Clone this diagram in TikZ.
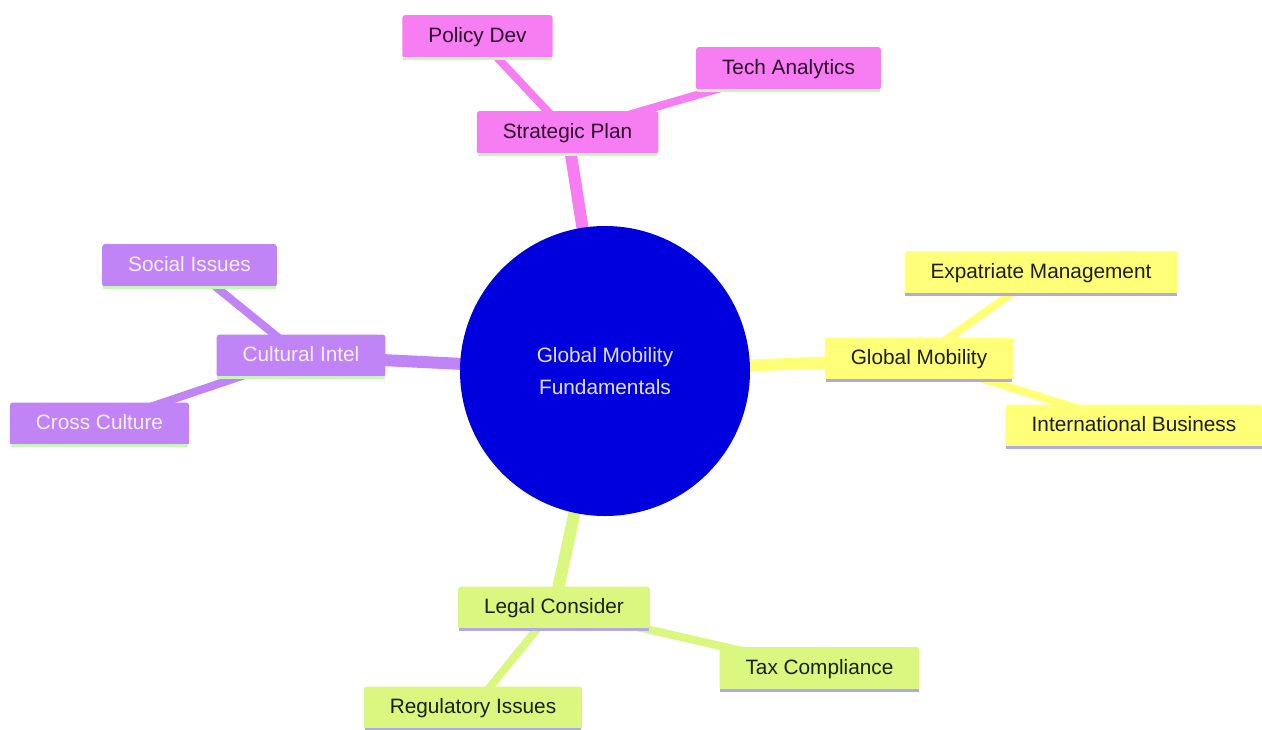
\documentclass[tikz,border=0pt]{standalone}
\usepackage{fontspec}
\setmainfont{Liberation Sans}
\pgfdeclarelayer{bg}
\pgfsetlayers{bg,main}
\definecolor{pinkc}{RGB}{246,125,242}
\definecolor{pinktx}{RGB}{45,12,45}
\definecolor{purpc}{RGB}{192,132,246}
\definecolor{purptx}{RGB}{246,238,255}
\definecolor{yellc}{RGB}{255,255,120}
\definecolor{yelltx}{RGB}{30,30,20}
\definecolor{greenc}{RGB}{218,247,128}
\definecolor{greentx}{RGB}{25,35,10}
\definecolor{rootc}{RGB}{0,0,222}
\definecolor{roottx}{RGB}{225,225,255}
\definecolor{lgreen}{RGB}{200,245,185}
\definecolor{lavender}{RGB}{175,170,230}
\tikzset{
  box/.style={rectangle, rounded corners=3pt, inner xsep=26pt, inner ysep=0pt,
    minimum height=43pt, font=\fontsize{20.8}{24}\selectfont, text height=15pt, text depth=4pt},
  pinkbox/.style={box, fill=pinkc, text=pinktx},
  purplebox/.style={box, fill=purpc, text=purptx},
  yellowbox/.style={box, fill=yellc, text=yelltx},
  greenbox/.style={box, fill=greenc, text=greentx},
  rootnode/.style={circle, fill=rootc, text=roottx, minimum size=290pt, inner sep=0pt,
    align=center, font=\fontsize{20.8}{32}\selectfont},
  mainedge/.style={line width=12pt},
  subedge/.style={line width=8pt},
  strip/.style={line width=3pt}
}
\begin{document}
\begin{tikzpicture}[x=1pt,y=-1pt]
\useasboundingbox (0,0) rectangle (1262,729);

\node[rootnode] (root) at (605,371) {Global Mobility\\ Fundamentals};

\node[pinkbox] (sp) at (567.5,132.5) {Strategic Plan};
\node[pinkbox] (pd) at (477.5,36.5) {Policy Dev};
\node[pinkbox] (ta) at (788.5,68.5) {Tech Analytics};

\node[purplebox] (ci) at (301,356) {Cultural Intel};
\node[purplebox] (si) at (189.5,265.5) {Social Issues};
\node[purplebox] (cc) at (99.5,424) {Cross Culture};

\node[yellowbox] (gm) at (919,359) {Global Mobility};
\node[yellowbox] (em) at (1041,272.5) {Expatriate Management};
\node[yellowbox] (ib) at (1134,426) {International Business};

\node[greenbox] (lc) at (554,608) {Legal Consider};
\node[greenbox] (tc) at (819.5,668.5) {Tax Compliance};
\node[greenbox] (ri) at (473,708) {Regulatory Issues};

\begin{pgfonlayer}{bg}
\fill[white] (0,0) rectangle (1262,729);
\draw[mainedge, pinkc] (root.center) -- (sp.center);
\draw[subedge, pinkc] (sp.center) -- (pd.center);
\draw[subedge, pinkc] (sp.center) -- (ta.center);
\draw[mainedge, purpc] (root.center) -- (ci.center);
\draw[subedge, purpc] (ci.center) -- (si.center);
\draw[subedge, purpc] (ci.center) -- (cc.center);
\draw[mainedge, yellc] (root.center) -- (gm.center);
\draw[subedge, yellc] (gm.center) -- (em.center);
\draw[subedge, yellc] (gm.center) -- (ib.center);
\draw[mainedge, greenc] (root.center) -- (lc.center);
\draw[subedge, greenc] (lc.center) -- (tc.center);
\draw[subedge, greenc] (lc.center) -- (ri.center);
\end{pgfonlayer}

\foreach \n in {sp,pd,ta,ci,si,cc}
  \draw[strip, lgreen] ([xshift=1pt]\n.south west) -- ([xshift=-1pt]\n.south east);
\foreach \n in {gm,em,ib,lc,tc,ri}
  \draw[strip, lavender] ([xshift=1pt]\n.south west) -- ([xshift=-1pt]\n.south east);
\end{tikzpicture}
\end{document}
